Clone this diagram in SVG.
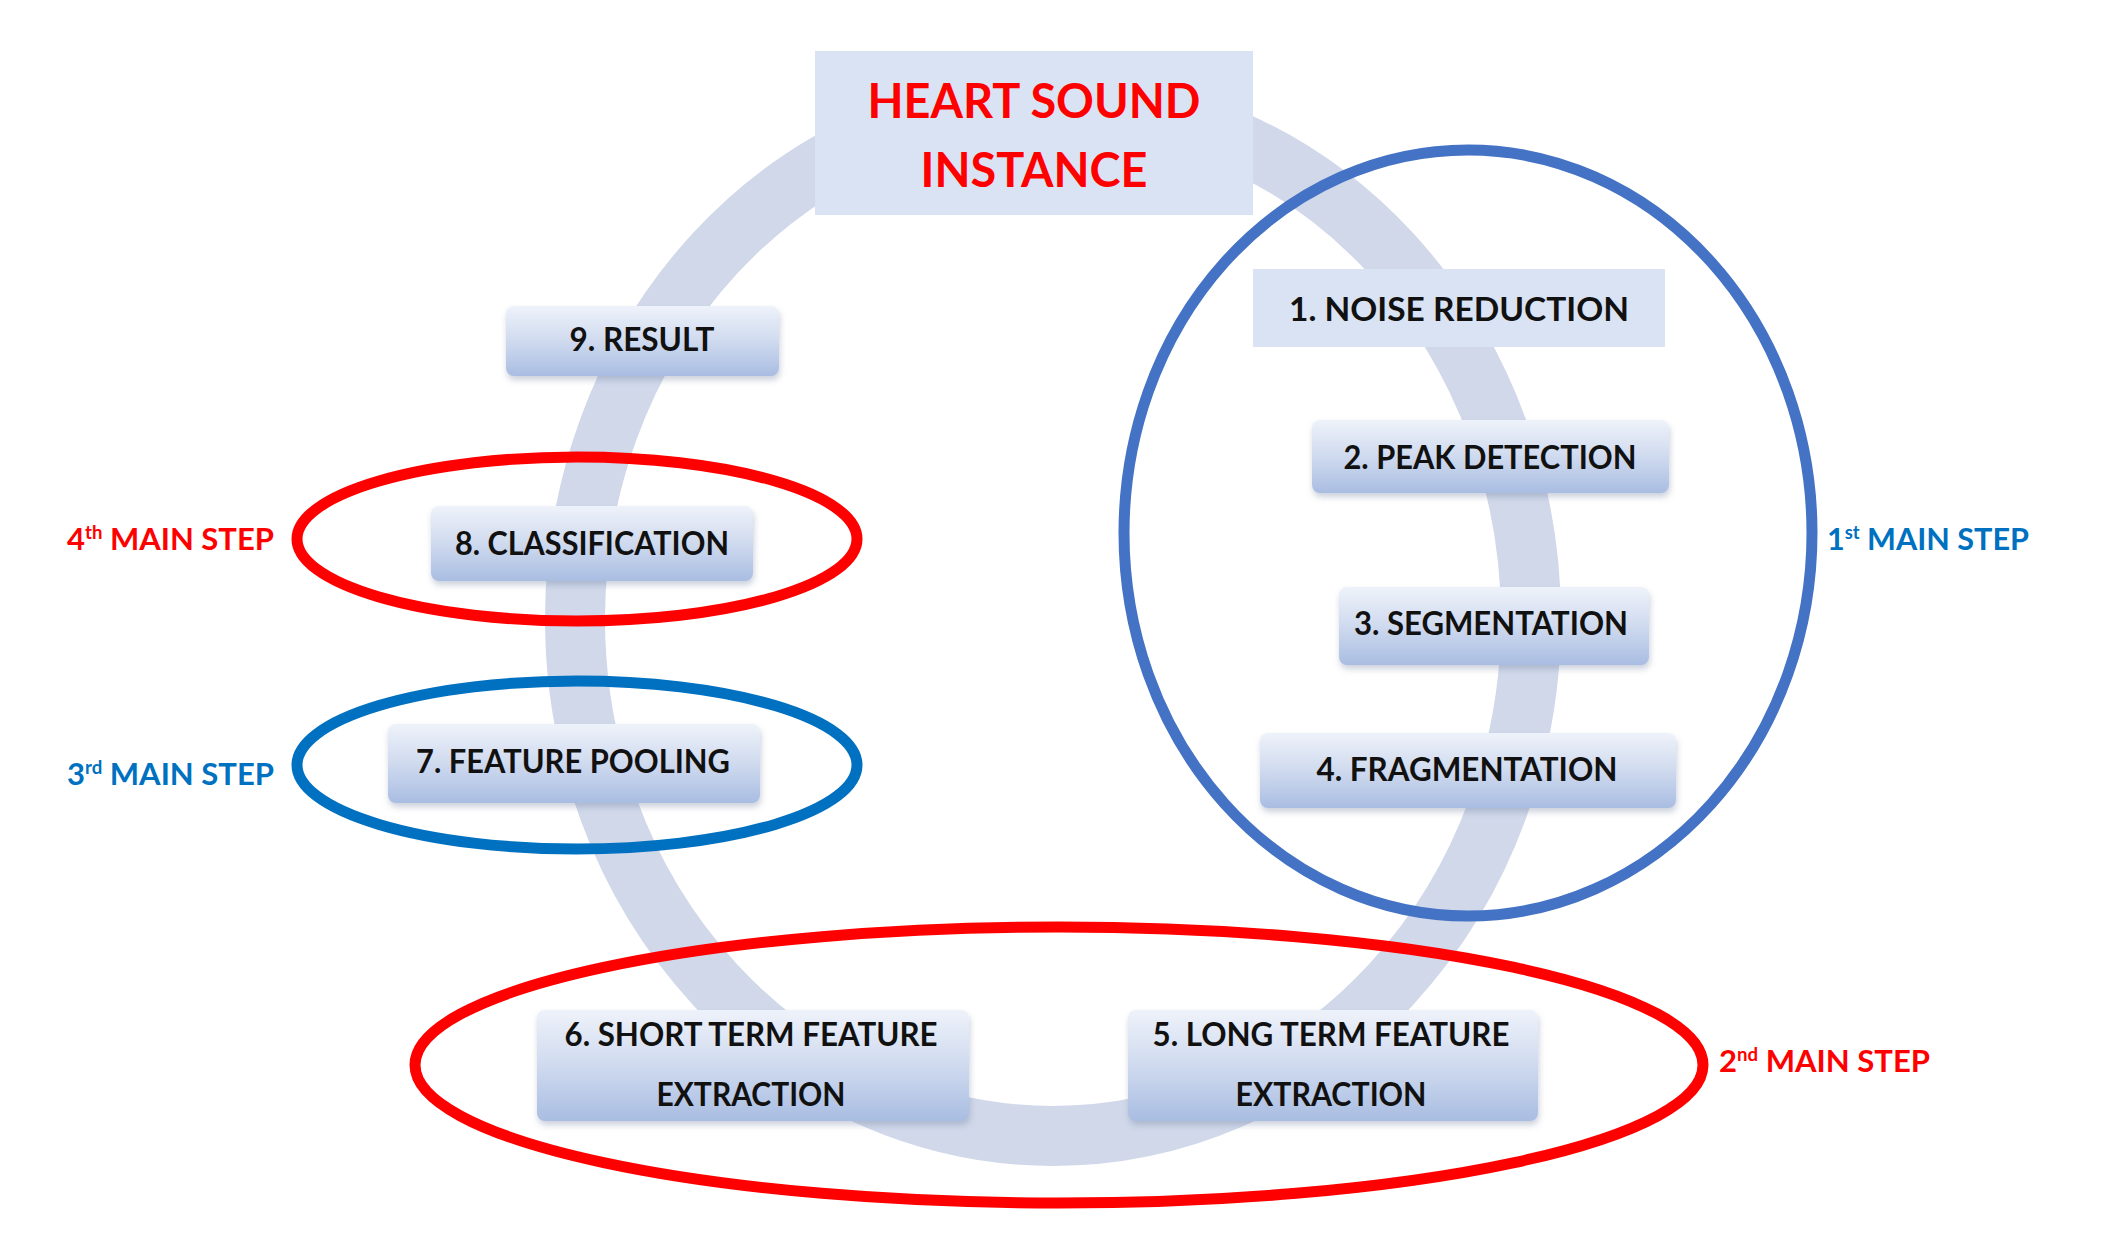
<svg xmlns="http://www.w3.org/2000/svg" width="2106" height="1259" viewBox="0 0 2106 1259">
<style>
.lbl{font-family:Lato,"Open Sans","Liberation Sans",sans-serif;font-weight:bold;font-size:32px;fill:#111;text-anchor:middle}
.head{font-family:Lato,"Open Sans","Liberation Sans",sans-serif;font-weight:bold;font-size:48px;fill:#FF0000;text-anchor:middle}
.step{font-family:Lato,"Open Sans","Liberation Sans",sans-serif;font-weight:bold;font-size:30px}
.red{fill:#FF0000}
.blue{fill:#0070C0}
.box{fill:url(#g);filter:url(#sh)}
.flat{fill:#DAE3F3}
.ell{fill:none;stroke-width:11}
</style>
<defs>
<linearGradient id="g" x1="0" y1="0" x2="0" y2="1">
<stop offset="0" stop-color="#EEF2FA"/>
<stop offset="0.45" stop-color="#D3DDF0"/>
<stop offset="1" stop-color="#A9BDE2"/>
</linearGradient>
<filter id="sh" x="-10%" y="-20%" width="120%" height="150%">
<feDropShadow dx="1" dy="4" stdDeviation="3" flood-color="#6B7A99" flood-opacity="0.35"/>
</filter>
</defs>
<rect width="2106" height="1259" fill="#FFFFFF"/>
<g id="connectors">
<ellipse id="ring" cx="1053" cy="619" rx="478" ry="517" fill="none" stroke="#D0D8EA" stroke-width="60"/>
</g>
<g id="n0">
<rect x="815" y="51" width="438" height="164" class="flat"/>
<text class="head" x="1034" y="118" textLength="333" lengthAdjust="spacingAndGlyphs">HEART SOUND</text>
<text class="head" x="1034" y="187" textLength="227" lengthAdjust="spacingAndGlyphs">INSTANCE</text>
</g>
<g id="n1">
<rect x="1253" y="269" width="412" height="78" class="flat"/>
<text class="lbl" x="1459" y="321" textLength="340" lengthAdjust="spacingAndGlyphs">1. NOISE REDUCTION</text>
</g>
<g id="n2">
<rect x="1312" y="420" width="357" height="73" rx="8" class="box"/>
<text class="lbl" x="1490" y="469" textLength="293" lengthAdjust="spacingAndGlyphs">2. PEAK DETECTION</text>
</g>
<g id="n3">
<rect x="1339" y="587" width="310" height="78" rx="8" class="box"/>
<text class="lbl" x="1491" y="635" textLength="274" lengthAdjust="spacingAndGlyphs">3. SEGMENTATION</text>
</g>
<g id="n4">
<rect x="1260" y="733" width="416" height="75" rx="8" class="box"/>
<text class="lbl" x="1467" y="781" textLength="301" lengthAdjust="spacingAndGlyphs">4. FRAGMENTATION</text>
</g>
<g id="n5">
<rect x="1128" y="1010" width="410" height="111" rx="8" class="box"/>
<text class="lbl" x="1331" y="1046" textLength="357" lengthAdjust="spacingAndGlyphs">5. LONG TERM FEATURE</text>
<text class="lbl" x="1331" y="1106" textLength="191" lengthAdjust="spacingAndGlyphs">EXTRACTION</text>
</g>
<g id="n6">
<rect x="537" y="1010" width="432" height="111" rx="8" class="box"/>
<text class="lbl" x="751" y="1046" textLength="373" lengthAdjust="spacingAndGlyphs">6. SHORT TERM FEATURE</text>
<text class="lbl" x="751" y="1106" textLength="189" lengthAdjust="spacingAndGlyphs">EXTRACTION</text>
</g>
<g id="n7">
<rect x="388" y="724" width="372" height="79" rx="8" class="box"/>
<text class="lbl" x="573" y="773" textLength="314" lengthAdjust="spacingAndGlyphs">7. FEATURE POOLING</text>
</g>
<g id="n8">
<rect x="431" y="506" width="322" height="75" rx="8" class="box"/>
<text class="lbl" x="592" y="555" textLength="274" lengthAdjust="spacingAndGlyphs">8. CLASSIFICATION</text>
</g>
<g id="n9">
<rect x="506" y="306" width="273" height="70" rx="8" class="box"/>
<text class="lbl" x="642" y="351" textLength="145" lengthAdjust="spacingAndGlyphs">9. RESULT</text>
</g>
<g id="step1">
<ellipse cx="1468" cy="533" rx="344" ry="383" class="ell" stroke="#4472C4"/>
<text class="step blue" x="1827" y="550" textLength="202" lengthAdjust="spacingAndGlyphs">1<tspan font-size="18" dy="-11">st</tspan><tspan dy="11"> MAIN STEP</tspan></text>
</g>
<g id="step2">
<ellipse cx="1059" cy="1065" rx="644" ry="138" class="ell" stroke="#FF0000" stroke-width="12"/>
<text class="step red" x="1719" y="1072" textLength="211" lengthAdjust="spacingAndGlyphs">2<tspan font-size="18" dy="-11">nd</tspan><tspan dy="11"> MAIN STEP</tspan></text>
</g>
<g id="step3">
<ellipse cx="577" cy="765" rx="280" ry="84" class="ell" stroke="#0070C0"/>
<text class="step blue" x="67" y="785" textLength="207" lengthAdjust="spacingAndGlyphs">3<tspan font-size="18" dy="-11">rd</tspan><tspan dy="11"> MAIN STEP</tspan></text>
</g>
<g id="step4">
<ellipse cx="577" cy="539" rx="280" ry="82" class="ell" stroke="#FF0000"/>
<text class="step red" x="67" y="550" textLength="207" lengthAdjust="spacingAndGlyphs">4<tspan font-size="18" dy="-11">th</tspan><tspan dy="11"> MAIN STEP</tspan></text>
</g>
</svg>
